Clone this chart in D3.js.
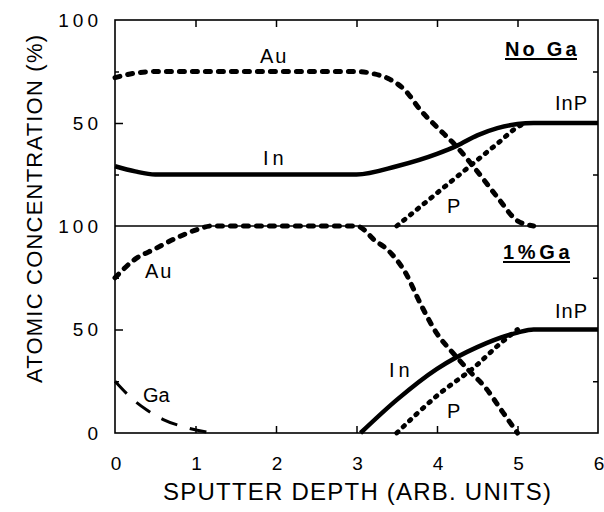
<!DOCTYPE html>
<html>
<head>
<meta charset="utf-8">
<script src="https://cdn.jsdelivr.net/npm/d3@7"></script>
<style>
  body { margin: 0; background: #fff; }
  text { font-family: "Liberation Sans", Arial, sans-serif; fill: #000; }
</style>
</head>
<body>
<svg width="604" height="512"></svg>
<script>
// Data (x = sputter depth, y = atomic %)
// Top panel: No Ga
var auTop = [[0,72],[0.25,74.2],[0.5,75],[1,75],[2,75],[3,75],[3.2,74],[3.4,71.5],[3.6,66],[3.8,56],[4,48],[4.25,38.3],[4.5,26.5],[4.75,14],[5,2.5],[5.2,0]];
var inTop = [[0,29],[0.25,26.5],[0.5,25],[1,25],[2,25],[3,25],[3.5,29],[4,35],[4.25,39],[4.5,44],[4.75,47.5],[5,49.5],[5.2,50],[6,50]];
var pTop  = [[3.5,0],[4,16],[4.5,32],[4.75,40],[5,48],[5.1,50]];
// Bottom panel: 1% Ga
var auBot = [[0,75],[0.25,84],[0.5,89],[0.75,94],[1,98],[1.2,100],[2,100],[3,100],[3.1,98],[3.2,94],[3.4,88],[3.6,78],[3.8,62],[4,48],[4.2,38.6],[4.4,30],[4.6,22],[4.8,11],[5,0]];
var inBot = [[3.05,0],[3.5,16],[4,31],[4.5,41.5],[5,48.5],[5.2,50],[6,50]];
var pBot  = [[3.5,0],[4,18],[4.5,33],[4.75,42],[5,50]];
var gaBot = [[0,25],[0.2,17],[0.4,11],[0.6,6.5],[0.9,2.5],[1.2,0]];

var xTicks = [0, 1, 2, 3, 4, 5, 6];
var yLabelsTop = [50, 100];
var yLabelsBot = [0, 50, 100];

var svg = d3.select('svg');

var xScale = d3.scaleLinear().domain([0, 6]).range([115, 598]);
var yTop = d3.scaleLinear().domain([0, 100]).range([226, 20]);
var yBot = d3.scaleLinear().domain([0, 100]).range([433, 226]);

// frame ticks (inward)
function ticksFor(y, g) {
    g.append('g').attr('transform', 'translate(115,0)')
        .call(d3.axisLeft(y).tickValues([50]).tickSize(-8).tickFormat(''));
    g.append('g').attr('transform', 'translate(115,0)')
        .call(d3.axisLeft(y).tickValues([25, 75]).tickSize(-4).tickFormat(''));
    g.append('g').attr('transform', 'translate(598,0)')
        .call(d3.axisRight(y).tickValues([25, 50, 75]).tickSize(-5).tickFormat(''));
}
var axesG = svg.append('g');
ticksFor(yTop, axesG);
ticksFor(yBot, axesG);
axesG.append('g').attr('transform', 'translate(0,20)')
    .call(d3.axisTop(xScale).tickValues([1, 2, 3, 4, 5]).tickSize(-7).tickFormat(''));
axesG.append('g').attr('transform', 'translate(0,433)')
    .call(d3.axisBottom(xScale).tickValues([1, 2, 3, 4, 5]).tickSize(-7).tickFormat(''));
axesG.selectAll('.domain').remove();
axesG.selectAll('line').attr('stroke', '#000').attr('stroke-width', 1.5);

// frame
svg.append('rect')
    .attr('x', 115).attr('y', 20).attr('width', 483).attr('height', 413)
    .attr('fill', 'none').attr('stroke', '#000').attr('stroke-width', 1.6);
svg.append('line')
    .attr('x1', 115).attr('x2', 598).attr('y1', yTop(0)).attr('y2', yTop(0))
    .attr('stroke', '#000').attr('stroke-width', 1.6);

// tick labels
svg.append('g')
    .selectAll('text').data(xTicks).enter().append('text')
    .attr('x', d => xScale(d) + 1)
    .attr('y', 470)
    .attr('text-anchor', 'middle')
    .style('font-size', '19px')
    .text(d => d);

function yLabels(vals, y) {
    svg.append('g')
        .selectAll('text').data(vals).enter().append('text')
        .attr('x', 102)
        .attr('y', d => y(d))
        .attr('dy', '0.36em')
        .attr('text-anchor', 'end')
        .style('font-size', '19px')
        .style('letter-spacing', '4px')
        .text(d => d);
}
yLabels(yLabelsTop, yTop);
yLabels(yLabelsBot, yBot);

// axis titles
svg.append('text')
    .attr('x', 357).attr('y', 500)
    .attr('text-anchor', 'middle')
    .attr('textLength', 388).attr('lengthAdjust', 'spacing')
    .style('font-size', '24px')
    .text('SPUTTER DEPTH (ARB. UNITS)');
svg.append('text')
    .attr('transform', 'translate(42,209) rotate(-90)')
    .attr('text-anchor', 'middle')
    .attr('textLength', 348).attr('lengthAdjust', 'spacing')
    .style('font-size', '22px')
    .text('ATOMIC CONCENTRATION (%)');

// curves
function draw(data, y, style) {
    var line = d3.line()
        .x(d => xScale(d[0]))
        .y(d => y(d[1]))
        .curve(d3.curveMonotoneX);
    svg.append('path')
        .datum(data)
        .attr('d', line)
        .attr('fill', 'none')
        .attr('stroke', '#000')
        .attr('stroke-width', style.w)
        .attr('stroke-dasharray', style.dash || null)
        .attr('stroke-linecap', style.cap || 'butt');
}
var solid = {w: 4.5};
var dashed = {w: 5, dash: '5,8', cap: 'round'};
var dotted = {w: 4.8, dash: '1.8,7', cap: 'round'};
var longDash = {w: 3, dash: '17,13'};

draw(auTop, yTop, dashed);
draw(pTop, yTop, dotted);
draw(inTop, yTop, solid);
draw(auBot, yBot, dashed);
draw(pBot, yBot, dotted);
draw(inBot, yBot, solid);
draw(gaBot, yBot, longDash);

// in-plot labels
function label(txt, x, y, opts) {
    opts = opts || {};
    var t = svg.append('text')
        .attr('x', x).attr('y', y)
        .style('font-size', (opts.size || 20) + 'px')
        .style('letter-spacing', (opts.ls || 2) + 'px')
        .style('font-weight', opts.bold ? 'bold' : 'normal')
        .text(txt);
    if (opts.len) t.attr('textLength', opts.len).attr('lengthAdjust', 'spacing');
    if (opts.under) {
        svg.append('line')
            .attr('x1', x).attr('x2', x + opts.len)
            .attr('y1', y + 3).attr('y2', y + 3)
            .attr('stroke', '#000').attr('stroke-width', 1.8);
    }
}
label('Au', 260, 63);
label('In', 263, 165, {ls: 4});
label('InP', 555, 110, {ls: 1});
label('P', 447, 213);
label('No\u00a0Ga', 505, 56, {bold: true, size: 20, len: 72, under: true, ls: 0.5});
label('Au', 145, 278);
label('Ga', 143, 402, {ls: 0.01});
label('1%Ga', 503, 259, {bold: true, size: 20, len: 67, under: true, ls: 0.5});
label('InP', 555, 318, {ls: 1});
label('In', 389, 377, {ls: 4});
label('P', 447, 418);
</script>
</body>
</html>
